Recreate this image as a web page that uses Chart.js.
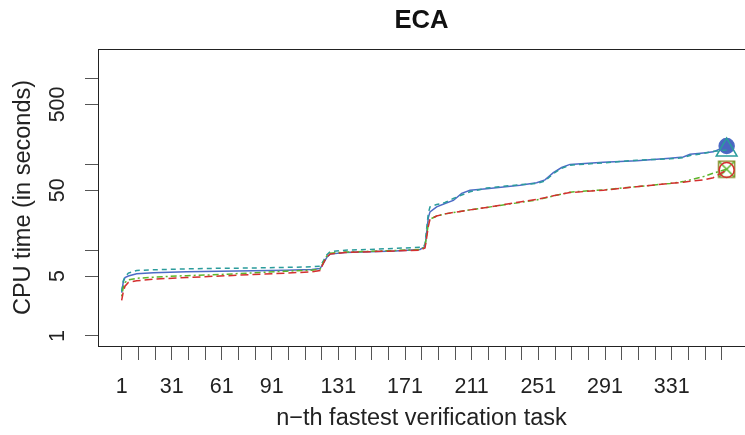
<!DOCTYPE html>
<html>
<head>
<meta charset="utf-8">
<script src="https://cdn.jsdelivr.net/npm/chart.js@4"></script>
<style>
  html, body { margin: 0; padding: 0; background: #fff; }
  #wrap { width: 745px; height: 435px; }
</style>
</head>
<body>
<div id="wrap"><canvas id="chart" width="745" height="435"></canvas></div>
<script>
// n-th fastest task (rank) shared by all series
const ranks = [1, 2, 3, 5, 10, 20, 40, 60, 80, 100, 115, 120, 122, 124, 126, 135, 150, 165, 180, 183, 184, 185, 186, 190, 195, 200, 205, 210, 220, 240, 250, 255, 260, 265, 270, 290, 310, 330, 338, 342, 350, 356, 364];

// CPU time in seconds
const blueTimes = [3.2, 4.3, 4.8, 5.0, 5.3, 5.45, 5.6, 5.7, 5.75, 5.85, 5.95, 6.1, 7.0, 8.2, 9.0, 9.4, 9.6, 9.8, 10.2, 11, 16, 24, 28, 32, 35, 38, 46, 50, 52, 57, 61, 66, 80, 92, 100, 106, 110, 118, 122, 131, 136, 140, 164];
const tealTimes = [3.3, 4.4, 4.9, 5.4, 5.8, 5.9, 6.05, 6.15, 6.2, 6.3, 6.4, 6.5, 7.5, 8.8, 9.6, 10.0, 10.2, 10.5, 10.8, 11.5, 18, 27, 32, 34, 36, 40, 44, 48, 53, 58, 60, 64, 78, 90, 98, 104, 112, 116, 120, 127, 134, 142, 147];
const greenTimes = [2.9, 3.7, 4.2, 4.5, 4.7, 4.85, 5.05, 5.2, 5.45, 5.7, 5.85, 6.0, 7.2, 8.5, 9.2, 9.5, 9.7, 9.9, 10.2, 11, 15, 20, 23, 25, 26.5, 27.5, 28.5, 29.5, 31.5, 36, 38.5, 40.5, 43, 45, 47.5, 50.5, 55, 60, 63, 66, 72, 79, 88];
const redTimes = [2.6, 3.3, 3.8, 4.2, 4.4, 4.6, 4.8, 5.0, 5.2, 5.4, 5.6, 5.8, 7.0, 8.3, 9.0, 9.4, 9.6, 9.8, 10.0, 10.6, 14, 19, 23, 25, 26.5, 27.5, 28.5, 29.5, 31.5, 36.5, 39, 41, 43, 45, 47, 50, 55, 60, 62, 63.5, 66, 70, 86];

const xTicks = [1, 11, 21, 31, 41, 51, 61, 71, 81, 91, 101, 111, 121, 131, 141, 151, 161, 171, 181, 191, 201, 211, 221, 231, 241, 251, 261, 271, 281, 291, 301, 311, 321, 331, 341, 351, 361];
const xLabels = [1, 31, 61, 91, 131, 171, 211, 251, 291, 331];
const yTicks = [1, 5, 10, 50, 100, 500, 1000];
const yLabels = [1, 5, 50, 500];

const FONT = '"Liberation Sans", Arial, Helvetica, sans-serif';

function toPoints(values) {
    return ranks.map((r, i) => ({ x: r, y: values[i] }));
}

// square with an X inside (end marker of the green series)
function squareCross() {
    const c = document.createElement('canvas');
    c.width = 19;
    c.height = 19;
    const g = c.getContext('2d');
    g.lineWidth = 1.5;
    g.strokeStyle = '#8a8a2a';
    g.strokeRect(1.5, 1.5, 16, 16);
    g.strokeStyle = '#5cb52c';
    g.beginPath();
    g.moveTo(2, 2); g.lineTo(17, 17);
    g.moveTo(17, 2); g.lineTo(2, 17);
    g.stroke();
    return c;
}

function lastOnly(value) {
    return ctx => ctx.dataIndex === ranks.length - 1 ? value : 0;
}

function series(values, color, dash, marker, radius, fill) {
    return {
        data: toPoints(values),
        borderColor: color,
        borderWidth: 1.5,
        borderDash: dash,
        tension: 0,
        pointStyle: marker,
        pointRadius: lastOnly(radius),
        pointHoverRadius: 0,
        pointBorderColor: color,
        pointBackgroundColor: fill,
        pointBorderWidth: 1.5
    };
}

const boxAndLabels = {
    id: 'boxAndLabels',
    afterDraw(chart) {
        const ctx = chart.ctx;
        const a = chart.chartArea;
        const y = chart.scales.y;
        ctx.save();
        ctx.strokeStyle = '#222';
        ctx.lineWidth = 1;
        ctx.strokeRect(Math.round(a.left) + 0.5, Math.round(a.top) + 0.5, a.right - a.left + 5, Math.round(a.bottom - a.top));
        ctx.fillStyle = '#222';
        ctx.font = '21.5px ' + FONT;
        ctx.textAlign = 'center';
        ctx.textBaseline = 'alphabetic';
        yLabels.forEach(v => {
            ctx.save();
            ctx.translate(63.5, y.getPixelForValue(v));
            ctx.rotate(-Math.PI / 2);
            ctx.fillText(String(v), 0, 0);
            ctx.restore();
        });
        ctx.restore();
    }
};

new Chart(document.getElementById('chart'), {
    type: 'line',
    data: {
        datasets: [
            series(redTimes, '#d42f2f', [8, 4], 'circle', 7.5, 'rgba(0,0,0,0)'),
            series(greenTimes, '#5cb52c', [2, 3, 6, 3], squareCross(), 9, 'rgba(0,0,0,0)'),
            series(tealTimes, '#2b9c9c', [5, 4], 'triangle', 12, 'rgba(0,0,0,0)'),
            series(blueTimes, '#4d6bc6', [], 'circle', 7.5, '#4a66c0')
        ]
    },
    options: {
        responsive: false,
        animation: false,
        events: [],
        layout: { autoPadding: false, padding: { top: 0, left: 0, right: 0, bottom: 0 } },
        plugins: {
            legend: { display: false },
            tooltip: { enabled: false },
            title: {
                display: true,
                text: 'ECA',
                fullSize: false,
                color: '#111',
                font: { family: FONT, size: 25.6, weight: 'bold' },
                padding: { top: 5.7, bottom: 12.6 }
            }
        },
        scales: {
            x: {
                type: 'linear',
                min: -13.2,
                max: 375,
                afterFit: s => { s.height = 89; },
                afterBuildTicks: s => { s.ticks = xTicks.map(v => ({ value: v })); },
                ticks: {
                    autoSkip: false,
                    maxRotation: 0,
                    minRotation: 0,
                    padding: 14,
                    color: '#222',
                    font: { family: FONT, size: 21.5 },
                    callback: v => xLabels.includes(v) ? String(v) : ''
                },
                grid: { drawOnChartArea: false, drawTicks: true, tickLength: 14, color: '#555' },
                border: { display: false },
                title: {
                    display: true,
                    text: 'n\u2212th fastest verification task',
                    color: '#222',
                    font: { family: FONT, size: 23.5 },
                    padding: { top: 0, bottom: 2.5 }
                }
            },
            y: {
                type: 'logarithmic',
                min: 0.764,
                max: 2213,
                afterFit: s => { s.width = 98; },
                afterBuildTicks: s => { s.ticks = yTicks.map(v => ({ value: v })); },
                ticks: {
                    color: '#222',
                    font: { family: FONT, size: 21.5 },
                    callback: () => ''
                },
                grid: { drawOnChartArea: false, drawTicks: true, tickLength: 13, color: '#555' },
                border: { display: false },
                title: {
                    display: true,
                    text: 'CPU time (in seconds)',
                    color: '#222',
                    font: { family: FONT, size: 23.5 },
                    padding: { top: 9.8, bottom: 0 }
                }
            }
        }
    },
    plugins: [boxAndLabels]
});
</script>
</body>
</html>
